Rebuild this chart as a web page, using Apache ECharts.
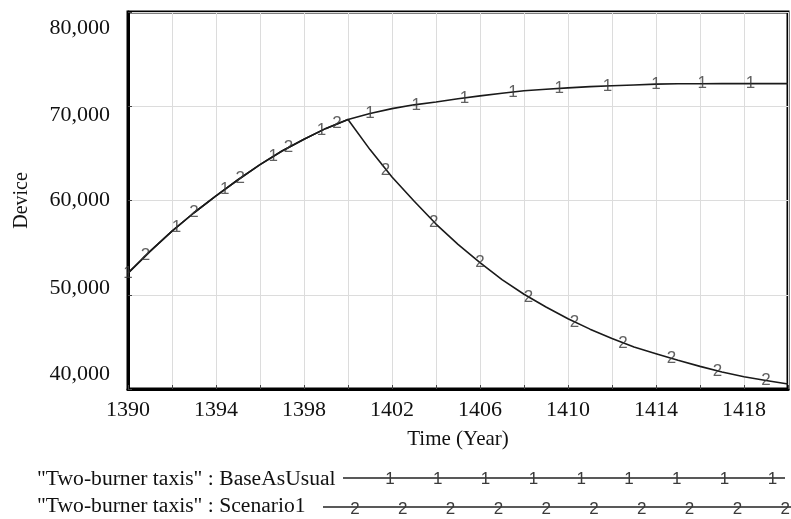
<!DOCTYPE html>
<html>
<head>
<meta charset="utf-8">
<script src="https://cdn.jsdelivr.net/npm/echarts@6/dist/echarts.min.js"></script>
<style>
  html, body { margin: 0; padding: 0; background: #fff; }
  #chart { width: 791px; height: 519px; }
</style>
</head>
<body>
<div id="chart"></div>
<script>
// Vensim style run comparison: BaseAsUsual vs Scenario1

const years = [1390, 1391, 1392, 1393, 1394, 1395, 1396, 1397, 1398, 1399, 1400,
    1401, 1402, 1403, 1404, 1405, 1406, 1407, 1408, 1409, 1410,
    1411, 1412, 1413, 1414, 1415, 1416, 1417, 1418, 1419, 1420];

const baseAsUsual = [52300, 54600, 56750, 58700, 60500, 62200, 63800, 65250, 66500, 67650, 68600,
    69230, 69750, 70150, 70450, 70800, 71100, 71380, 71650, 71800, 71950,
    72080, 72170, 72260, 72350, 72380, 72390, 72400, 72400, 72400, 72400];

const scenario1 = [52300, 54600, 56750, 58700, 60500, 62200, 63800, 65250, 66500, 67650, 68600,
    65400, 62500, 59950, 57500, 55350, 53400, 51600, 50050, 48700, 47450,
    46350, 45350, 44450, 43750, 43050, 42400, 41800, 41300, 40900, 40530];

// run markers ("1" / "2") as they sit on the curves
const marker1Years = [1390.0, 1392.2, 1394.4, 1396.6, 1398.8, 1401.0, 1403.1, 1405.3, 1407.5, 1409.6, 1411.8, 1414.0, 1416.1, 1418.3];
const marker1Values = [52300, 57200, 61200, 64700, 67400, 69250, 70100, 70850, 71450, 71900, 72150, 72350, 72400, 72400];
const marker2Years = [1390.8, 1393.0, 1395.1, 1397.3, 1399.5, 1401.7, 1403.9, 1406.0, 1408.2, 1410.3, 1412.5, 1414.7, 1416.8, 1419.0];
const marker2Values = [54150, 58700, 62350, 65600, 68150, 63240, 57720, 53400, 49760, 47110, 44880, 43290, 41910, 40950];

const yTicks = [40000, 50000, 60000, 70000, 80000];
const legendNames = ['"Two-burner taxis" : BaseAsUsual', '"Two-burner taxis" : Scenario1'];

const serif = 'Liberation Serif';
const sans = 'Liberation Sans';

function pairs(xs, ys) {
    return xs.map((x, i) => [x, ys[i]]);
}

// labels sit inside the plot range, like Vensim does
const labelStyle = {
    '80000': 'a', '70000': 'b', '60000': 'c', '50000': 'd', '40000': 'e'
};

function markerSeries(xs, ys, text) {
    return {
        type: 'scatter',
        data: pairs(xs, ys),
        symbolSize: 1,
        itemStyle: { color: 'transparent' },
        silent: true,
        z: 5,
        label: {
            show: true,
            position: 'inside',
            formatter: text,
            fontFamily: sans,
            fontSize: 17,
            color: '#3a3a3a'
        }
    };
}

// legend rows drawn by hand
function legendGraphics() {
    const items = [];
    const textFont = '21.6px "' + serif + '"';
    const markFont = '17px "' + sans + '"';
    items.push({ type: 'text', left: 37, top: 468, style: { text: legendNames[0], font: textFont, fill: '#111' } });
    items.push({ type: 'text', left: 37, top: 495, style: { text: legendNames[1], font: textFont, fill: '#111' } });
    items.push({ type: 'line', shape: { x1: 343, y1: 478, x2: 785, y2: 478 }, style: { stroke: '#222', lineWidth: 1.5 } });
    items.push({ type: 'line', shape: { x1: 323, y1: 507, x2: 791, y2: 507 }, style: { stroke: '#222', lineWidth: 1.5 } });
    for (let k = 0; k < 9; k++) {
        items.push({ type: 'text', x: 390 + k * 47.8, y: 479, style: { text: '1', font: markFont, fill: '#3a3a3a', align: 'center', verticalAlign: 'middle' } });
    }
    for (let k = 0; k < 10; k++) {
        items.push({ type: 'text', x: 355 + k * 47.8, y: 509, style: { text: '2', font: markFont, fill: '#3a3a3a', align: 'center', verticalAlign: 'middle' } });
    }
    return items;
}

const chart = echarts.init(document.getElementById('chart'));

const option = {
    animation: false,
    backgroundColor: '#fff',
    grid: {
        left: 128,
        right: 3,
        top: 12,
        bottom: 130,
        show: true,
        borderColor: '#000',
        borderWidth: 3,
        backgroundColor: '#fff'
    },
    xAxis: {
        type: 'value',
        min: 1390,
        max: 1420,
        interval: 2,
        name: 'Time (Year)',
        nameLocation: 'middle',
        nameGap: 40,
        nameTextStyle: { fontFamily: serif, fontSize: 21, color: '#111' },
        axisLine: { lineStyle: { color: '#000', width: 3 } },
        axisTick: { inside: true, length: 4, lineStyle: { color: '#444' } },
        splitLine: { show: true, lineStyle: { color: '#dcdcdc', width: 1 } },
        axisLabel: {
            fontFamily: serif,
            fontSize: 22,
            color: '#111',
            margin: 10,
            formatter: function (v) {
                return ((v - 1390) % 4 === 0 && v < 1420) ? String(v) : '';
            }
        }
    },
    yAxis: {
        type: 'value',
        min: yTicks[0],
        max: yTicks[yTicks.length - 1],
        interval: 10000,
        name: 'Device',
        nameLocation: 'middle',
        nameGap: 96,
        nameRotate: 90,
        nameTextStyle: { fontFamily: serif, fontSize: 20, color: '#111' },
        axisLine: { show: true, lineStyle: { color: '#000', width: 3 } },
        axisTick: { show: true, inside: true, length: 4, lineStyle: { color: '#444' } },
        splitLine: { show: true, lineStyle: { color: '#dcdcdc', width: 1 } },
        axisLabel: {
            fontFamily: serif,
            fontSize: 22,
            color: '#111',
            margin: 18,
            formatter: function (v) {
                const s = v.toLocaleString('en-US');
                return '{' + labelStyle[String(v)] + '|' + s + '}';
            },
            rich: {
                a: { fontFamily: serif, fontSize: 22, color: '#111', padding: [32, 0, 0, 0] },
                b: { fontFamily: serif, fontSize: 22, color: '#111', padding: [18, 0, 0, 0] },
                c: { fontFamily: serif, fontSize: 22, color: '#111' },
                d: { fontFamily: serif, fontSize: 22, color: '#111', padding: [0, 0, 14, 0] },
                e: { fontFamily: serif, fontSize: 22, color: '#111', padding: [0, 0, 30, 0] }
            }
        }
    },
    series: [
        {
            name: legendNames[1],
            type: 'line',
            data: pairs(years, scenario1),
            showSymbol: false,
            lineStyle: { color: '#1a1a1a', width: 1.6 },
            z: 3
        },
        {
            name: legendNames[0],
            type: 'line',
            data: pairs(years, baseAsUsual),
            showSymbol: false,
            lineStyle: { color: '#1a1a1a', width: 1.6 },
            z: 4
        },
        markerSeries(marker1Years, marker1Values, '1'),
        markerSeries(marker2Years, marker2Values, '2')
    ],
    graphic: legendGraphics()
};

chart.setOption(option);

window.addEventListener('resize', function () {
    chart.resize();
});
</script>
</body>
</html>
